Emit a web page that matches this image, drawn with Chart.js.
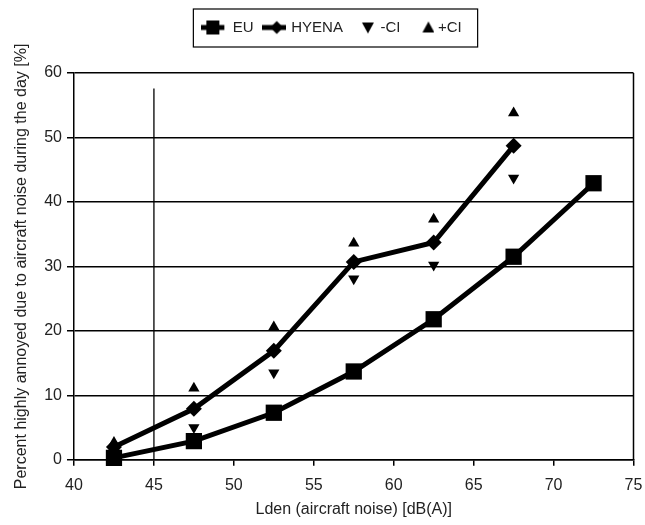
<!DOCTYPE html>
<html>
<head>
<meta charset="utf-8">
<script src="https://cdn.jsdelivr.net/npm/chart.js@4/dist/chart.umd.min.js"></script>
<style>
  html, body { margin: 0; padding: 0; background: #fff; }
</style>
</head>
<body>
<canvas id="chart" width="645" height="525"></canvas>
<script>
// Data
const levels = [42.5, 47.5, 52.5, 57.5, 62.5, 67.5, 72.5];
const euValues = [0.3, 2.9, 7.3, 13.7, 21.8, 31.5, 42.9];
const hyenaValues = [2.0, 7.9, 16.9, 30.7, 33.7, 48.7];
const minusCiValues = [1.2, 5.0, 13.5, 28.1, 30.2, 43.7];
const plusCiValues = [2.7, 11.1, 20.6, 33.6, 37.3, 53.8];
const refLineX = [45, 45];
const refLineY = [0, 57.6];

const INK = '#000';
const TEXT = '#222';
const FONT = { family: 'Liberation Sans, Arial, sans-serif', size: 16 };
const TICK_FONT = { family: 'Liberation Sans, Arial, sans-serif', size: 16, lineHeight: 1 };
const LEGEND_FONT = { family: 'Liberation Sans, Arial, sans-serif', size: 15 };
const TOP_PAD = 38;

function toPoints(xs, ys) {
  return ys.map((y, i) => ({ x: xs[i], y }));
}

// Legend icons (line + marker)
function makeIcon(w, h, draw) {
  const c = document.createElement('canvas');
  c.width = w; c.height = h;
  const ctx = c.getContext('2d');
  ctx.fillStyle = INK; ctx.strokeStyle = INK;
  draw(ctx, w, h);
  return c;
}
const euIcon = makeIcon(28, 16, (ctx, w, h) => {
  ctx.lineWidth = 5;
  ctx.beginPath(); ctx.moveTo(0, h / 2); ctx.lineTo(23, h / 2); ctx.stroke();
  ctx.fillRect(5, 1, 13, 14);
});
const hyenaIcon = makeIcon(24, 16, (ctx, w, h) => {
  ctx.lineWidth = 5;
  ctx.beginPath(); ctx.moveTo(0, h / 2); ctx.lineTo(w, h / 2); ctx.stroke();
  ctx.beginPath();
  ctx.moveTo(15, 1.5); ctx.lineTo(21.5, 8); ctx.lineTo(15, 14.5); ctx.lineTo(8.5, 8);
  ctx.closePath(); ctx.fill();
});
const downIcon = makeIcon(24, 14, ctx => {
  ctx.beginPath(); ctx.moveTo(11, 2); ctx.lineTo(23, 2); ctx.lineTo(17, 13); ctx.closePath(); ctx.fill();
});
const upIcon = makeIcon(28, 14, ctx => {
  ctx.beginPath(); ctx.moveTo(16, 12); ctx.lineTo(28, 12); ctx.lineTo(22, 1); ctx.closePath(); ctx.fill();
});

// Plugins
const frame = {
  id: 'frame',
  afterLayout(chart) {
    // legend sits a bit right of centre and well above the plot in the original
    const lg = chart.legend;
    lg.left += 7; lg.right += 7;
    lg.top -= TOP_PAD - 10; lg.bottom -= TOP_PAD - 10;
  },
  afterDraw(chart) {
    const { ctx, chartArea: a } = chart;
    ctx.save();
    ctx.strokeStyle = INK;
    ctx.lineWidth = 1.5;
    ctx.beginPath(); ctx.moveTo(a.right, a.top); ctx.lineTo(a.right, a.bottom); ctx.stroke();
    const boxes = chart.legend.legendHitBoxes;
    if (boxes && boxes.length) {
      const l = Math.min(...boxes.map(b => b.left)) - 12;
      const r = Math.max(...boxes.map(b => b.left + b.width)) + 16;
      const t = boxes[0].top - 11;
      const bt = boxes[0].top + boxes[0].height + 12;
      ctx.lineWidth = 1.2;
      ctx.strokeRect(l, t, r - l, bt - t);
    }
    ctx.restore();
  }
};

new Chart(document.getElementById('chart'), {
  type: 'line',
  data: {
    datasets: [
      {
        label: 'EU',
        data: toPoints(levels, euValues),
        borderColor: INK, backgroundColor: INK, borderWidth: 5,
        pointStyle: 'rect', pointRadius: 11.5, pointBorderWidth: 0, clip: false
      },
      {
        label: 'HYENA',
        data: toPoints(levels, hyenaValues),
        borderColor: INK, backgroundColor: INK, borderWidth: 5,
        pointStyle: 'rectRot', pointRadius: 8, pointBorderWidth: 0, clip: false
      },
      {
        label: '-CI',
        data: toPoints(levels, minusCiValues),
        showLine: false, borderColor: INK, backgroundColor: INK, pointBorderWidth: 0,
        pointStyle: 'triangle', rotation: 180, pointRadius: 6.5, clip: false
      },
      {
        label: '+CI',
        data: toPoints(levels, plusCiValues),
        showLine: false, borderColor: INK, backgroundColor: INK, pointBorderWidth: 0,
        pointStyle: 'triangle', pointRadius: 6.5, clip: false
      },
      {
        label: 'ref',
        data: toPoints(refLineX, refLineY),
        borderColor: INK, borderWidth: 1.3, pointRadius: 0
      }
    ]
  },
  options: {
    responsive: false,
    animation: false,
    layout: { padding: { top: TOP_PAD, right: 0, left: 8, bottom: 2 } },
    plugins: {
      tooltip: { enabled: false },
      legend: {
        position: 'top',
        labels: {
          usePointStyle: true,
          pointStyleWidth: 20,
          boxHeight: 15,
          padding: 10,
          color: TEXT,
          font: LEGEND_FONT,
          generateLabels: () => [
            { text: 'EU', pointStyle: euIcon, fontColor: TEXT, lineWidth: 0, datasetIndex: 0 },
            { text: 'HYENA', pointStyle: hyenaIcon, fontColor: TEXT, lineWidth: 0, datasetIndex: 1 },
            { text: '-CI', pointStyle: downIcon, fontColor: TEXT, lineWidth: 0, datasetIndex: 2 },
            { text: '+CI', pointStyle: upIcon, fontColor: TEXT, lineWidth: 0, datasetIndex: 3 }
          ]
        }
      }
    },
    scales: {
      x: {
        type: 'linear', min: 40, max: 75,
        afterFit: s => { s.paddingRight = 11; },
        ticks: { stepSize: 5, color: TEXT, font: TICK_FONT, padding: 12 },
        grid: { drawOnChartArea: false, color: INK, lineWidth: 1.5, tickLength: 6 },
        border: { color: INK, width: 1.5 },
        title: { display: true, text: 'Lden (aircraft noise) [dB(A)]', color: TEXT, font: FONT, padding: { top: -6, bottom: 4 } }
      },
      y: {
        min: 0, max: 60,
        ticks: { stepSize: 10, color: TEXT, font: FONT, padding: 5 },
        grid: { color: INK, lineWidth: 1.5, tickLength: 7 },
        border: { color: INK, width: 1.5 },
        title: { display: true, text: 'Percent highly annoyed due to aircraft noise during the day [%]', color: TEXT, font: FONT, padding: { top: 4, bottom: 8 } }
      }
    }
  },
  plugins: [frame]
});
</script>
</body>
</html>
